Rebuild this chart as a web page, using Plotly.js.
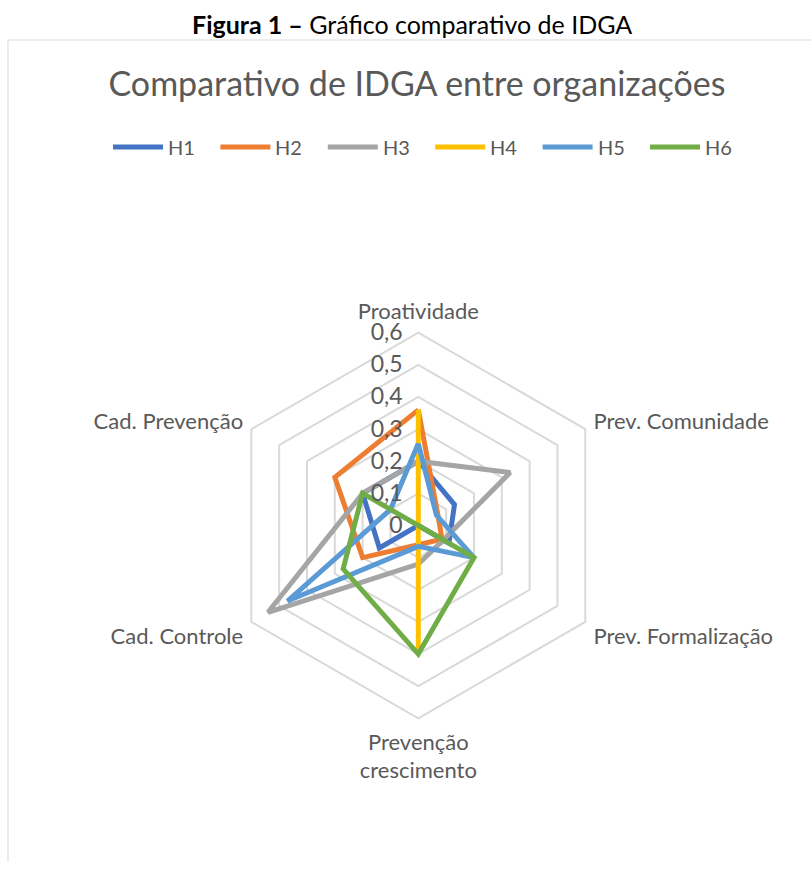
<!DOCTYPE html>
<html>
<head>
<meta charset="utf-8">
<script src="https://cdn.plot.ly/plotly-3.0.1.min.js"></script>
<style>
  html, body { margin: 0; padding: 0; background: #fff; }
  #chart { width: 811px; height: 874px; }
</style>
</head>
<body>
<div id="chart"></div>
<script>
// Categories (clockwise from top)
const categories = ["Proatividade", "Prev. Comunidade", "Prev. Formalização", "Prevenção<br>crescimento", "Cad. Controle", "Cad. Prevenção"];
const seriesNames = ["H1", "H2", "H3", "H4", "H5", "H6"];
// Values
const H1 = [0.20, 0.13, 0.11, 0.00, 0.14, 0.20];
const H2 = [0.36, 0.07, 0.085, 0.06, 0.20, 0.30];
const H3 = [0.20, 0.33, 0.09, 0.12, 0.54, 0.20];
const H4 = [0.36, 0.00, 0.00, 0.40, 0.00, 0.00];
const H5 = [0.255, 0.065, 0.20, 0.065, 0.47, 0.10];
const H6 = [0.00, 0.00, 0.20, 0.40, 0.27, 0.20];
const radialTicks = [0, 0.1, 0.2, 0.3, 0.4, 0.5, 0.6];
const radialTickText = ["0", "0,1", "0,2", "0,3", "0,4", "0,5", "0,6"];
const colors = ["#4472C4", "#ED7D31", "#A5A5A5", "#FFC000", "#5B9BD5", "#70AD47"];

const allSeries = [H1, H2, H3, H4, H5, H6];
const FONT = "Lato, 'Open Sans', sans-serif";
const TXT = "#595959";

const traces = allSeries.map((vals, i) => ({
  type: "scatterpolar",
  mode: "lines",
  name: seriesNames[i],
  r: vals.concat([vals[0]]),
  theta: categories.concat([categories[0]]),
  line: { color: colors[i], width: 5 },
  hoverinfo: "skip",
  showlegend: false
}));

const W = 811, H = 874;
const cx = 418.3, cy = 525.5, R = 192.8;

// Custom legend (line sample + label) built from series names and colours
const legStart = 113, legPitch = 107.4, legLine = 50, legY = 147;
const legendShapes = seriesNames.map((n, i) => ({
  type: "line", xref: "paper", yref: "paper",
  x0: (legStart + i * legPitch) / W, x1: (legStart + i * legPitch + legLine) / W,
  y0: 1 - legY / H, y1: 1 - legY / H,
  line: { color: colors[i], width: 5 }
}));
const legendAnnots = seriesNames.map((n, i) => ({
  text: n, xref: "paper", yref: "paper",
  x: (legStart + i * legPitch + legLine + 3) / W, y: 1 - legY / H,
  xanchor: "left", yanchor: "middle", showarrow: false,
  font: { family: FONT, size: 20, color: TXT }
}));

const layout = {
  width: W, height: H,
  margin: { l: 0, r: 0, t: 0, b: 0 },
  paper_bgcolor: "#fff",
  showlegend: false,
  font: { family: FONT, color: TXT },
  title: {
    text: "Comparativo de IDGA entre organizações",
    font: { family: FONT, size: 34, color: TXT },
    x: 417 / W, xanchor: "center",
    y: 1 - 84 / H, yanchor: "middle",
    xref: "paper", yref: "paper"
  },
  polar: {
    domain: { x: [(cx - R) / W, (cx + R) / W], y: [(H - cy - R) / H, (H - cy + R) / H] },
    gridshape: "linear",
    bgcolor: "rgba(0,0,0,0)",
    angularaxis: {
      rotation: 90,
      direction: "clockwise",
      showgrid: false,
      showline: true,
      linecolor: "#d9d9d9",
      linewidth: 2,
      ticks: "outside",
      ticklen: 4,
      tickcolor: "rgba(0,0,0,0)",
      tickfont: { family: FONT, size: 22, color: TXT }
    },
    radialaxis: {
      range: [0, 0.6],
      angle: 90,
      side: "counterclockwise",
      tickvals: radialTicks,
      ticktext: radialTickText.map(t => t + "\u00a0\u00a0"),
      tickangle: 90,
      showline: false,
      ticks: "",
      gridcolor: "#d9d9d9",
      gridwidth: 2,
      tickfont: { family: FONT, size: 23, color: TXT }
    }
  },
  annotations: [{
    text: "<b>Figura 1 –</b> Gráfico comparativo de IDGA",
    xref: "paper", yref: "paper",
    x: 412 / W, y: 1 - 24 / H, xanchor: "center", yanchor: "middle",
    showarrow: false,
    font: { family: FONT, size: 25, color: "#000" }
  }].concat(legendAnnots),
  shapes: [
    { type: "line", xref: "paper", yref: "paper", x0: 8 / W, x1: 1, y0: 1 - 40 / H, y1: 1 - 40 / H, line: { color: "#d9d9d9", width: 1 } },
    { type: "line", xref: "paper", yref: "paper", x0: 8 / W, x1: 8 / W, y0: 1 - 40 / H, y1: 1 - 862 / H, line: { color: "#d9d9d9", width: 1 } }
  ].concat(legendShapes)
};

Plotly.newPlot("chart", traces, layout, { displayModeBar: false, staticPlot: true });
</script>
</body>
</html>
